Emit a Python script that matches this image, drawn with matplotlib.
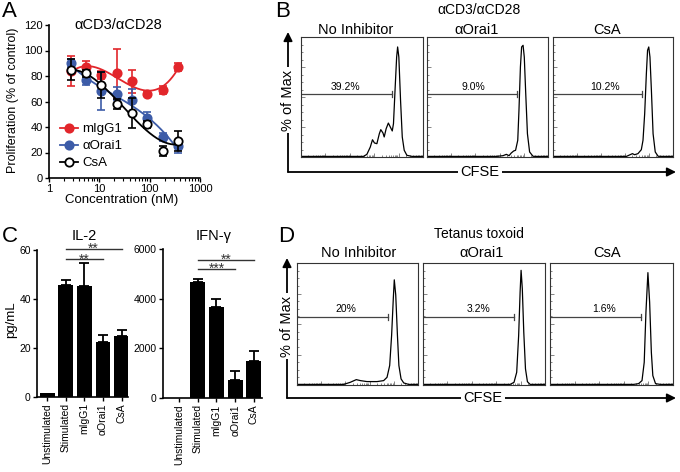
import numpy as np
import matplotlib.pyplot as plt
from matplotlib.lines import Line2D

plt.rcParams['font.family'] = ['Liberation Sans', 'DejaVu Sans']

W, H = 680, 472

# === A: proliferation vs concentration ===
conc_nm = [2.7, 5.4, 11, 22, 45, 90, 180, 360]
migg1 = [84, 87, 81, 82, 76, 66, 69, 87]
migg1_err = [12, 5, 3, 19, 9, 2, 3, 3]
orai1 = [90, 77, 68, 66, 61, 47, 32, 25]
orai1_err = [3, 4, 15, 5, 9, 5, 3, 5]
csa = [85, 82, 73, 58, 51, 42, 21, 29]
csa_err = [8, 3, 10, 4, 12, 3, 4, 8]

# === C: cytokines ===
groups = ['Unstimulated', 'Stimulated', 'mIgG1', 'αOrai1', 'CsA']
il2 = [1.5, 45.7, 45.5, 22.6, 25.1]
il2_err = [0, 2.0, 9.3, 2.8, 2.3]
ifng = [0, 4680, 3670, 720, 1500]
ifng_err = [0, 130, 310, 380, 400]

# === B: CFSE histograms, aCD3/aCD28 (log10 CFSE, % of max) ===
b_none_x = [0, 2.56, 2.70, 2.84, 2.93, 3.01, 3.11, 3.21, 3.27, 3.36, 3.41, 3.49, 3.58,
            3.66, 3.74, 3.79, 3.86, 3.92, 3.96, 4.01, 4.08, 4.15, 4.23, 4.34, 4.55, 5]
b_none_y = [0.5, 0.5, 2.2, 8.3, 14.4, 11.7, 11.1, 19.4, 22.8, 20.0, 16.7, 23.6, 28.3,
            25.0, 21.7, 27.8, 58.3, 83.3, 91.7, 83.3, 47.2, 16.7, 5.6, 1.4, 0.5, 0.5]
b_orai_x = [0, 2.87, 3.14, 3.28, 3.39, 3.48, 3.58, 3.66, 3.75, 3.80, 3.86, 3.91, 3.97,
            4.02, 4.08, 4.15, 4.24, 4.38, 4.52, 5]
b_orai_y = [0.5, 0.5, 1.1, 2.2, 1.1, 3.3, 5.0, 5.6, 13.9, 38.9, 75.0, 91.7, 93.1,
            83.3, 52.8, 19.4, 4.2, 0.6, 0.5, 0.5]
b_csa_x = [0, 3.06, 3.19, 3.31, 3.40, 3.54, 3.68, 3.75, 3.82, 3.89, 3.94, 3.99, 4.04,
           4.10, 4.17, 4.26, 4.38, 4.58, 5]
b_csa_y = [0.5, 0.5, 1.7, 2.8, 1.9, 2.8, 6.1, 13.9, 36.1, 69.4, 88.9, 91.7, 83.3,
           55.6, 19.4, 4.2, 0.6, 0.5, 0.5]
b_gate_txt = ['39.2%', '9.0%', '10.2%']

# === D: CFSE histograms, tetanus toxoid ===
d_none_x = [0, 1.93, 2.20, 2.45, 2.62, 2.89, 3.31, 3.58, 3.72, 3.83, 3.91, 3.98, 4.02,
            4.08, 4.15, 4.21, 4.30, 4.41, 4.61, 5]
d_none_y = [0.5, 0.5, 2.2, 4.4, 3.6, 2.8, 2.8, 3.6, 6.3, 16.0, 40.8, 71.1, 86.2,
            73.8, 40.8, 16.0, 5.0, 1.7, 0.5, 0.5]
d_orai_x = [0, 3.57, 3.73, 3.84, 3.92, 3.98, 4.02, 4.07, 4.13, 4.20, 4.28, 4.39, 4.59, 5]
d_orai_y = [0.5, 0.5, 2.2, 10.4, 40.5, 76.2, 94.0, 78.9, 43.3, 13.2, 2.7, 0.5, 0.5, 0.5]
d_csa_x = [0, 3.40, 3.60, 3.74, 3.83, 3.90, 3.98, 4.05, 4.12, 4.18, 4.29, 4.48, 5]
d_csa_y = [0.5, 0.5, 1.1, 3.6, 18.6, 59.7, 92.1, 67.9, 26.8, 7.7, 1.1, 0.5, 0.5]
d_gate_txt = ['20%', '3.2%', '1.6%']

fig = plt.figure(figsize=(W / 100, H / 100), dpi=100)


def px_axes(l, t, r, b):
    return fig.add_axes([l / W, 1 - b / H, (r - l) / W, (b - t) / H])


def style_spines(ax, lw=1.2):
    ax.spines['top'].set_visible(False)
    ax.spines['right'].set_visible(False)
    ax.spines['left'].set_linewidth(lw)
    ax.spines['bottom'].set_linewidth(lw)


# --- panel A ---
axA = px_axes(49, 25, 200, 178)
series = [(migg1, migg1_err, '#e2262b', '#e2262b', 'mIgG1'),
          (orai1, orai1_err, '#3d5ca8', '#3d5ca8', 'αOrai1'),
          (csa, csa_err, 'black', 'white', 'CsA')]
handles = []
for vals, err, col, face, lab in series:
    lx = np.log10(conc_nm)
    p = np.polyfit(lx, vals, 3)
    xs = np.linspace(lx[0], lx[-1], 200)
    axA.plot(10 ** xs, np.polyval(p, xs), color=col, lw=1.3)
    axA.errorbar(conc_nm, vals, yerr=err, fmt='none', ecolor=col, elinewidth=1.2,
                 capsize=3, capthick=1.2)
    axA.plot(conc_nm, vals, 'o', ms=6, mfc=face, mec=col, mew=1.3)
    handles.append(Line2D([], [], color=col, lw=1.3, marker='o', ms=6, mfc=face,
                          mec=col, mew=1.3, label=lab))
axA.set_xscale('log')
axA.set_xlim(1, 1000)
axA.set_ylim(0, 120)
axA.set_yticks(range(0, 121, 20))
axA.set_xticks([1, 10, 100, 1000])
axA.set_xticklabels(['1', '10', '100', '1000'])
style_spines(axA)
axA.tick_params(labelsize=8, length=3, width=1, pad=1.5)
axA.tick_params(which='minor', length=2, width=0.8)
axA.legend(handles=handles, loc='upper left', bbox_to_anchor=(0.07, 0.36), frameon=False,
           fontsize=9.5, handlelength=1.4, handletextpad=0.3, labelspacing=0.36,
           borderpad=0, borderaxespad=0)

# --- panel C ---
xpos = np.arange(len(groups))
cyto = [(il2, il2_err, (37, 250, 128, 397), (-0.55, 4.35), (0, 60), [0, 20, 40, 60]),
        (ifng, ifng_err, (163, 249, 262, 398), (-0.85, 4.43), (0, 6000), [0, 2000, 4000, 6000])]
axC = []
for vals, err, box, xl, yl, yt in cyto:
    ax = px_axes(*box)
    ax.bar(xpos, vals, width=0.8, color='black')
    idx = [i for i in xpos if err[i] > 0]
    ax.errorbar(xpos[idx], np.array(vals)[idx], yerr=[np.zeros(len(idx)), np.array(err)[idx]],
                fmt='none', ecolor='black', elinewidth=1.3, capsize=3.5, capthick=1.3)
    ax.set_xlim(*xl)
    ax.set_ylim(*yl)
    ax.set_yticks(yt)
    ax.set_xticks(xpos)
    ax.set_xticklabels(groups, rotation=90)
    style_spines(ax)
    ax.tick_params(labelsize=7.5, length=3, width=1, pad=1.5)
    axC.append(ax)


def sig(ax, x0, x1, y, txt):
    ax.plot([x0, x1], [y, y], color='#333333', lw=1.0, clip_on=False)
    ax.text((x0 + x1) / 2, y, txt, ha='center', va='center', fontsize=10,
            color='#333333')


sig(axC[0], 1, 4, 60.5, '**')
sig(axC[0], 1, 3, 56.2, '**')
sig(axC[1], 1, 4, 5560, '**')
sig(axC[1], 1, 3, 5195, '***')


# --- panels B and D ---
def flow_box(box, hx, hy, gate_end, gate_y, txt, txt_x, txt_y):
    ax = px_axes(*box)
    ax.plot(hx, hy, color='black', lw=0.9)
    ax.set_xlim(0, 5)
    ax.set_ylim(0, 100)
    for s in ax.spines.values():
        s.set_linewidth(0.8)
        s.set_color('#333333')
    ax.set_xticks(range(6))
    ax.set_xticks([d + np.log10(k) for d in range(5) for k in range(2, 10)], minor=True)
    ax.set_yticks(np.arange(0, 101, 25))
    ax.set_yticks(np.arange(0, 100, 6.25), minor=True)
    ax.tick_params(which='both', direction='in', labelbottom=False, labelleft=False,
                   color='#555555', width=0.5)
    ax.tick_params(which='major', length=3)
    ax.tick_params(which='minor', length=1.5)
    ax.plot([0, gate_end], [gate_y, gate_y], color='#444444', lw=0.9)
    ax.plot([gate_end, gate_end], [gate_y - 2.5, gate_y + 2.5], color='#444444', lw=0.9)
    ax.text(txt_x, txt_y, txt, ha='center', va='bottom', fontsize=7.5)


b_boxes = [(301, 37, 423, 157), (427, 37, 548, 157), (553, 37, 673, 157)]
b_hist = [(b_none_x, b_none_y), (b_orai_x, b_orai_y), (b_csa_x, b_csa_y)]
b_gate_end = [3.72, 3.72, 3.72]
b_txt_x = [1.82, 1.90, 2.15]
for i in range(3):
    flow_box(b_boxes[i], *b_hist[i], b_gate_end[i], 52.8, b_gate_txt[i], b_txt_x[i], 54.5)

d_boxes = [(297, 263, 418, 385), (423, 263, 545, 385), (550, 263, 673, 385)]
d_hist = [(d_none_x, d_none_y), (d_orai_x, d_orai_y), (d_csa_x, d_csa_y)]
d_gate_end = [3.75, 3.73, 3.70]
d_txt_x = [2.0, 2.28, 2.2]
for i in range(3):
    flow_box(d_boxes[i], *d_hist[i], d_gate_end[i], 56, d_gate_txt[i], d_txt_x[i], 58)

# --- overlay for labels and arrows ---
ov = fig.add_axes([0, 0, 1, 1], facecolor='none')
ov.set_xlim(0, W)
ov.set_ylim(H, 0)
ov.axis('off')

for letter, x, y in [('A', 2, 1), ('B', 275, 1), ('C', 2, 226), ('D', 278, 226)]:
    ov.text(x, y, letter, fontsize=16, ha='left', va='top')

ov.text(118, 25, 'αCD3/αCD28', fontsize=10.5, ha='center', va='center')
ov.text(13, 100, 'Proliferation (% of control)', fontsize=9, rotation=90,
        ha='center', va='center')
ov.text(122, 200, 'Concentration (nM)', fontsize=9.5, ha='center', va='center')

ov.text(84, 236, 'IL-2', fontsize=10.5, ha='center', va='center')
ov.text(214, 236, 'IFN-γ', fontsize=10.5, ha='center', va='center')
ov.text(11, 320, 'pg/mL', fontsize=9.5, rotation=90, ha='center', va='center')

for (ax_x, y_top, y_bot, x_end, ylab_y, cfse_x, head, titles_y, title_x) in [
        (288, 32, 172, 676, 100, 480, 'αCD3/αCD28', (13.5, 33.5), [356, 477, 607]),
        (287, 258, 398, 676, 326, 483, 'Tetanus toxoid', (238.5, 257), [359, 482, 607])]:
    ov.annotate('', xy=(ax_x, y_top), xytext=(ax_x, y_bot),
                arrowprops=dict(arrowstyle='-|>', lw=1.3, color='black', mutation_scale=13,
                                shrinkA=0, shrinkB=0))
    ov.annotate('', xy=(x_end, y_bot), xytext=(ax_x, y_bot),
                arrowprops=dict(arrowstyle='-|>', lw=1.3, color='black', mutation_scale=13,
                                shrinkA=0, shrinkB=0))
    ov.text(ax_x, ylab_y, '% of Max', fontsize=10.5, rotation=90, ha='center', va='center',
            bbox=dict(facecolor='white', edgecolor='none', pad=1.5))
    ov.text(cfse_x, y_bot, 'CFSE', fontsize=10.5, ha='center', va='center',
            bbox=dict(facecolor='white', edgecolor='none', pad=1.5))
    ov.text(479, titles_y[0], head, fontsize=10, ha='center', va='baseline')
    for tx, lab in zip(title_x, ['No Inhibitor', 'αOrai1', 'CsA']):
        ov.text(tx, titles_y[1], lab, fontsize=10.5, ha='center', va='baseline')

fig.savefig('out.png', dpi=100)
